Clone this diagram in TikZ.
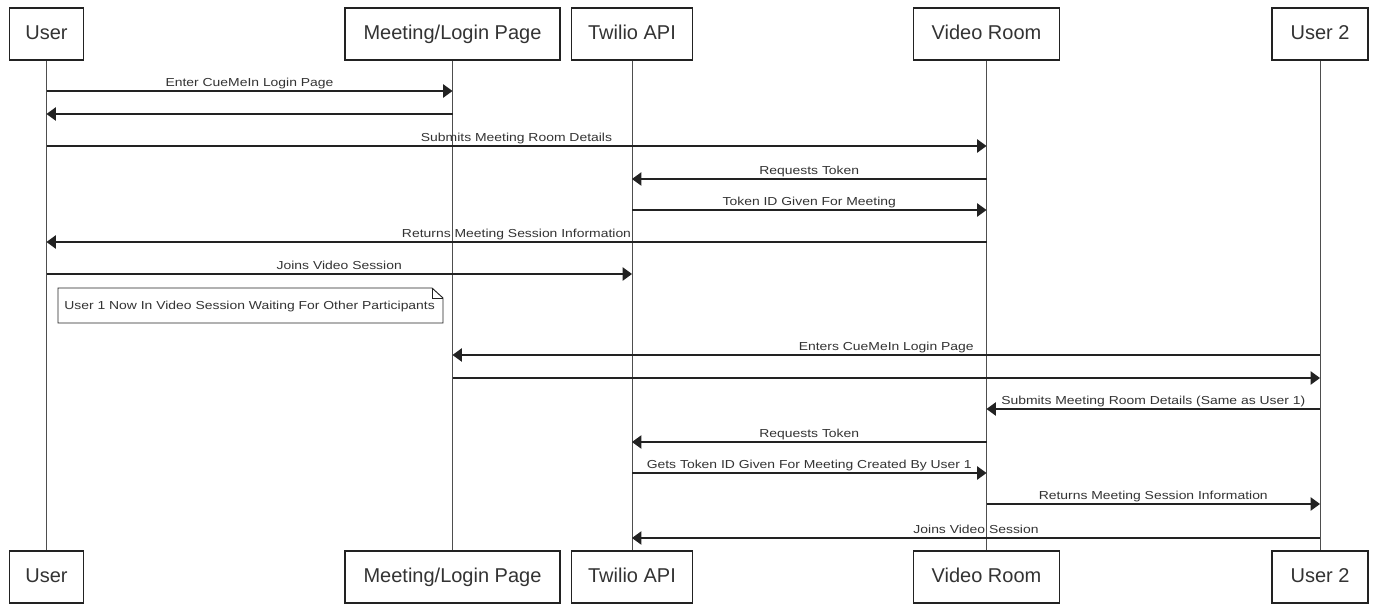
\documentclass[tikz,border=0pt]{standalone}
\usepackage{fontspec}
\setmainfont{Liberation Sans}
\newfontfamily\labfont[FakeStretch=1.2]{Liberation Sans}
\usetikzlibrary{arrows.meta}
\definecolor{ink}{HTML}{222222}
\definecolor{txt}{HTML}{333333}
\tikzset{
  actor/.style={draw=ink, line width=0.8pt, fill=white, minimum height=39pt, inner sep=0pt, text height=11pt, text depth=3pt, font=\fontsize{15}{18}\selectfont, text=txt},
  life/.style={draw=ink!80, line width=0.7pt},
  msg/.style={draw=ink, line width=0.8pt, -{Triangle[length=7pt,width=10pt]}},
  lab/.style={font=\labfont\fontsize{8.7}{10}\selectfont, text=txt, anchor=base, yshift=3.3pt, inner sep=0pt},
  notebox/.style={draw=ink, line width=0.7pt, fill=white},
}
\newcommand{\seqmsg}[4]{\draw[msg] (#1 |- 0,#3) -- node[lab]{#4} (#2 |- 0,#3);}
\begin{document}
\begin{tikzpicture}[x=0.75pt,y=-0.75pt]
\useasboundingbox (0,0) rectangle (1374,605);
% top actors
\node[actor, minimum width=55.5pt] (uT) at (46.5,34) {User};
\node[actor, minimum width=161.25pt] (mT) at (452.5,34) {Meeting/Login Page};
\node[actor, minimum width=90.75pt] (tT) at (632,34) {Twilio API};
\node[actor, minimum width=109.5pt] (vT) at (986.5,34) {Video Room};
\node[actor, minimum width=72pt] (wT) at (1320,34) {User 2};
% bottom actors
\node[actor, minimum width=55.5pt] (uB) at (46.5,577) {User};
\node[actor, minimum width=161.25pt] (mB) at (452.5,577) {Meeting/Login Page};
\node[actor, minimum width=90.75pt] (tB) at (632,577) {Twilio API};
\node[actor, minimum width=109.5pt] (vB) at (986.5,577) {Video Room};
\node[actor, minimum width=72pt] (wB) at (1320,577) {User 2};
% lifelines
\draw[life] (uT) -- (uB);
\draw[life] (mT) -- (mB);
\draw[life] (tT) -- (tB);
\draw[life] (vT) -- (vB);
\draw[life] (wT) -- (wB);
% messages
\seqmsg{uT}{mT}{91}{Enter CueMeIn Login Page}
\seqmsg{mT}{uT}{114}{}
\seqmsg{uT}{vT}{146}{Submits Meeting Room Details}
\seqmsg{vT}{tT}{179}{Requests Token}
\seqmsg{tT}{vT}{210}{Token ID Given For Meeting}
\seqmsg{vT}{uT}{242}{Returns Meeting Session Information}
\seqmsg{uT}{tT}{274}{Joins Video Session}
% note
\draw[notebox] (58,288) -- (432,288) -- (443,298) -- (443,323) -- (58,323) -- cycle;
\draw[line width=0.7pt, draw=ink] (432,288) -- (432,298) -- (443,298);
\node[font=\labfont\fontsize{8.7}{10}\selectfont, text=txt, anchor=west, inner sep=0pt] (note) at (64,307) {User 1 Now In Video Session Waiting For Other Participants};
\seqmsg{wT}{mT}{355}{Enters CueMeIn Login Page}
\seqmsg{mT}{wT}{378}{}
\seqmsg{wT}{vT}{409}{Submits Meeting Room Details (Same as User 1)}
\seqmsg{vT}{tT}{442}{Requests Token}
\seqmsg{tT}{vT}{473}{Gets Token ID Given For Meeting Created By User 1}
\seqmsg{vT}{wT}{504}{Returns Meeting Session Information}
\seqmsg{wT}{tT}{538}{Joins Video Session}
\end{tikzpicture}
\end{document}
